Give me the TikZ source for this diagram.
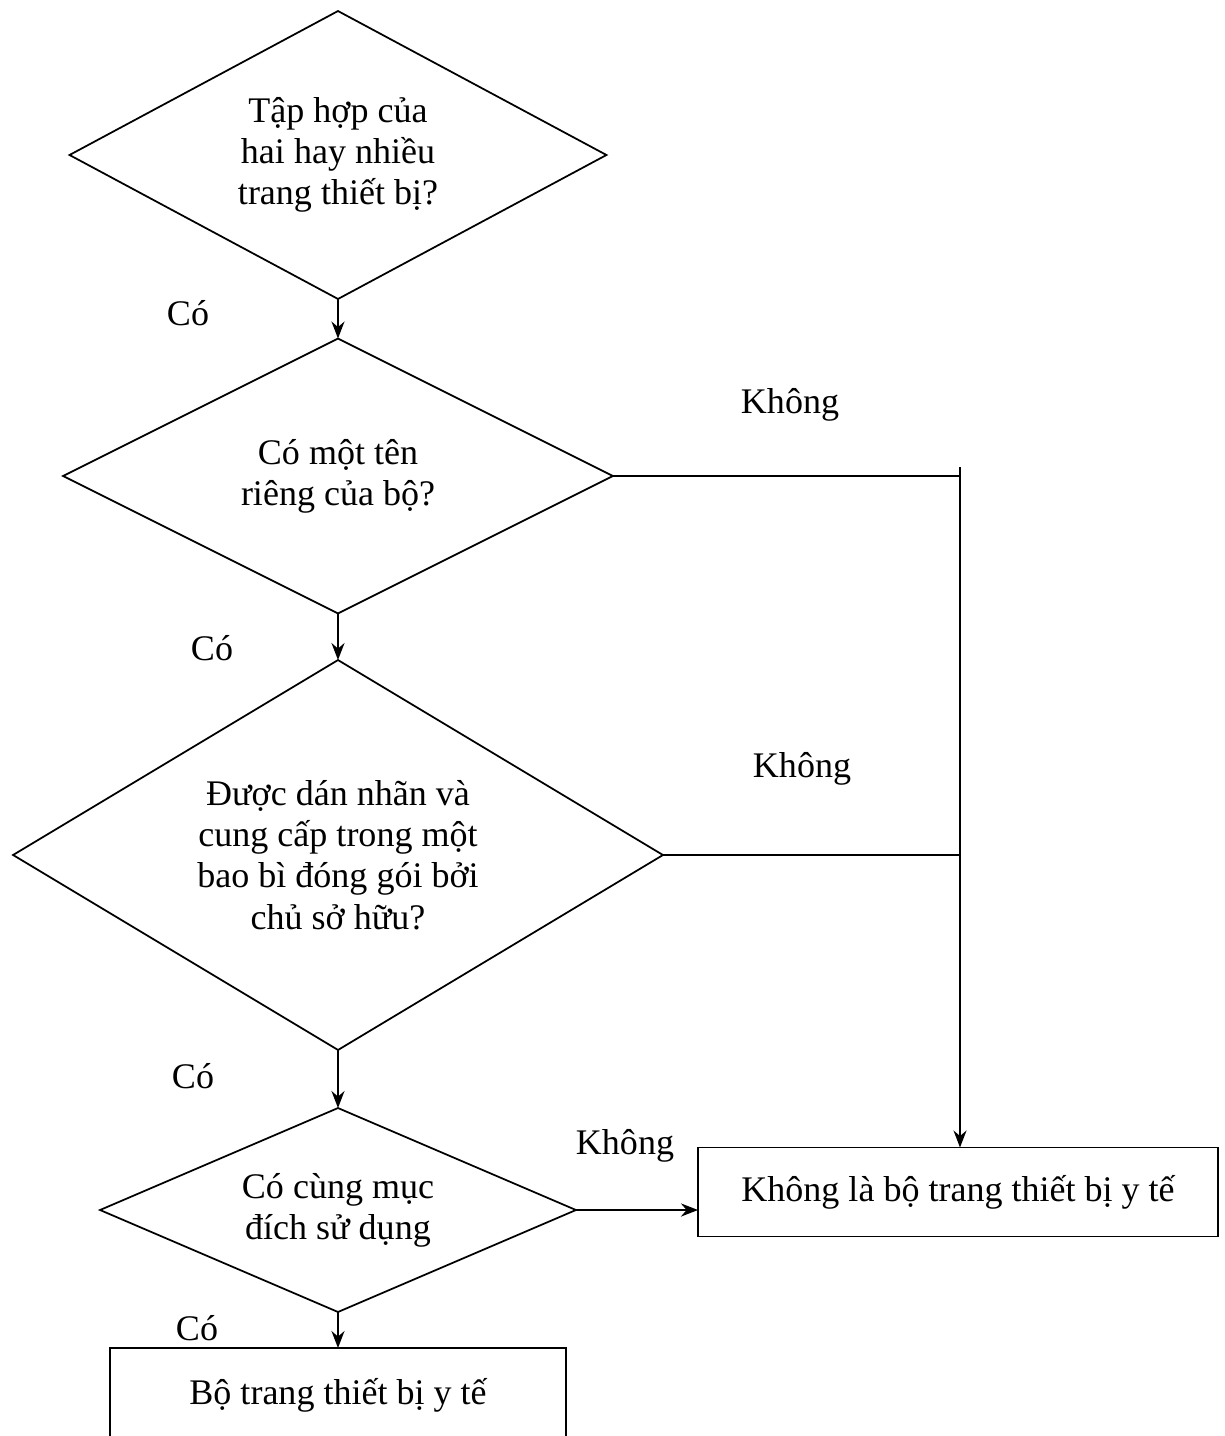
\documentclass[tikz,border=0pt]{standalone}
\usepackage{fontspec}
\setmainfont{Liberation Serif}
\usetikzlibrary{shapes.geometric,arrows.meta}
\begin{document}
\begin{tikzpicture}[>={Stealth[length=3.4mm, width=2.6mm]}, x=0.02cm, y=-0.02cm, line width=1pt,
	decision/.style={draw, diamond, inner sep=0pt, outer sep=0pt, align=center, font=\fontsize{20.5}{23.5}\selectfont},
	block/.style={draw, rectangle, inner sep=0pt, outer sep=0pt, align=center, font=\fontsize{20.5}{23.5}\selectfont},
	lbl/.style={font=\fontsize{20.5}{23.5}\selectfont}]
	\useasboundingbox (0,0) rectangle (1224,1436);
	% decisions
	\node[decision, shape aspect=1.86, minimum width=10.74cm, minimum height=5.76cm] (set) at (338,155) {Tập hợp của\\hai hay nhiều\\trang thiết bị?};
	\node[decision, shape aspect=2, minimum width=11cm, minimum height=5.5cm] (name) at (338,476) {Có một tên\\riêng của bộ?};
	\node[decision, shape aspect=1.67, minimum width=13cm, minimum height=7.8cm] (label) at (338,855) {Được dán nhãn và\\cung cấp trong một\\bao bì đóng gói bởi\\chủ sở hữu?};
	\node[decision, shape aspect=2.33, minimum width=9.52cm, minimum height=4.08cm] (purpose) at (338,1210) {Có cùng mục\\đích sử dụng};
	% results
	\node[block, minimum width=10.4cm, minimum height=1.78cm] (notkit) at (958,1192) {Không là bộ trang thiết bị y tế};
	\node[block, minimum width=9.12cm, minimum height=1.88cm] (kit) at (338,1395) {Bộ trang thiết bị y tế};
	% yes
	\draw[->] (set.south) -- (name.north);
	\draw[->] (name.south) -- (label.north);
	\draw[->] (label.south) -- (purpose.north);
	\draw[->] (purpose.south) -- (kit.north);
	\node[lbl] (yes1) at (188,313) {Có};
	\node[lbl] (yes2) at (212,648) {Có};
	\node[lbl] (yes3) at (193,1076) {Có};
	\node[lbl] (yes4) at (197,1328) {Có};
	% no
	\coordinate (join) at (960,476);
	\coordinate (jtop) at (960,467);
	\draw (name.east) -- (join);
	\draw (label.east) -- (label.east -| join);
	\draw[->] (jtop) -- (jtop |- notkit.north);
	\draw[->, line width=1.5pt] (purpose.east) -- (purpose.east -| notkit.west);
	\node[lbl] (no1) at (790,405) {Không};
	\node[lbl] (no2) at (802,769) {Không};
	\node[lbl] (no3) at (625,1146) {Không};
\end{tikzpicture}
\end{document}
